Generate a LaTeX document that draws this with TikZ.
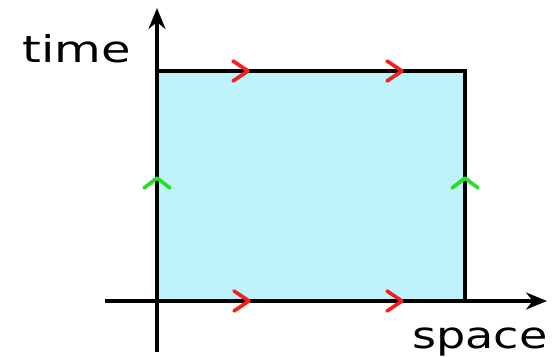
\documentclass[tikz,border=0pt]{standalone}
\usepackage{fontspec}
\setmainfont{DejaVu Sans}
\usepackage{xcolor}
\definecolor{mSheet}{HTML}{BEF3FC}
\definecolor{mFlowRed}{HTML}{F2201E}
\definecolor{mFlowGreen}{HTML}{25E022}
\usetikzlibrary{arrows.meta}
% chevron along space (red) and along time (green)
\newcommand{\spacemark}[2]{%
\draw[mFlowRed, line width=2.1pt, line cap=round, line join=round] (#1-15,#2+10) -- (#1,#2) -- (#1-15,#2-10);}
\newcommand{\timemark}[2]{%
\draw[mFlowGreen, line width=2.1pt, line cap=round, line join=round] (#1-13,#2-10) -- (#1,#2) -- (#1+13,#2-10);}

\begin{document}
\begin{tikzpicture}[x=0.02cm, y=0.02cm]
\useasboundingbox (0,0) rectangle (554,356);
\coordinate (o) at (157,55);
\coordinate (tr) at (465,285);
\fill[mSheet] (o) rectangle (tr);
\draw[line width=1.8pt] (157,285) -- (tr) -- (465,55);
% axes
\draw[line width=1.8pt, -{Stealth[length=0.42cm, width=0.34cm]}] (157,4) -- (157,348);
\draw[line width=1.8pt, -{Stealth[length=0.42cm, width=0.34cm]}] (105,55) -- (547,55);
\node[anchor=base west, inner sep=0pt, font=\fontsize{21}{25}\selectfont\addfontfeatures{FakeStretch=1.3}] (tlabel) at (22,294) {time};
\node[anchor=base west, inner sep=0pt, font=\fontsize{21}{25}\selectfont\addfontfeatures{FakeStretch=1.25}] (slabel) at (412,8) {space};
\spacemark{248}{285}
\spacemark{402}{285}
\spacemark{249}{55}
\spacemark{402}{55}
\timemark{157}{178}
\timemark{465}{178}
\end{tikzpicture}
\end{document}
